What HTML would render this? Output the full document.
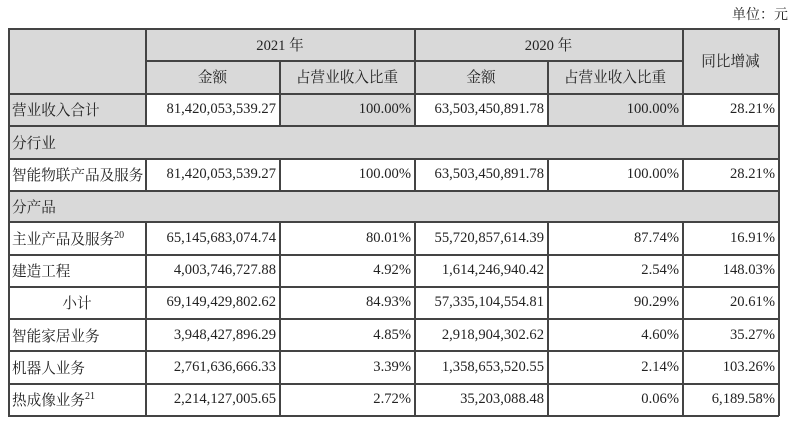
<!DOCTYPE html>
<html><head><meta charset="utf-8"><style>
body{margin:0;width:800px;height:426px;background:#fff;position:relative;overflow:hidden;font-family:"Liberation Serif","Noto Serif CJK SC",serif;font-size:14.6px;color:#222}
.c{position:absolute;box-sizing:border-box;display:flex;align-items:center;padding:0 3px 0 4px;white-space:nowrap}
.g{background:#d9d9d9}
.r{justify-content:flex-end}
.m{justify-content:center}
.h{position:absolute;height:1.5px;background:#444}
.v{position:absolute;width:1.5px;background:#444}
sup{font-size:10px;position:relative;top:-3px;vertical-align:top}
</style></head><body>
<div style="position:absolute;right:12px;top:4px;font-size:14px">单位：元</div>
<div class="c g" style="left:8px;top:28px;width:770px;height:65px"></div>
<div class="c g" style="left:8px;top:93px;width:137px;height:33px;">营业收入合计</div>
<div class="c g r" style="left:279px;top:93px;width:135px;height:33px">100.00%</div>
<div class="c g r" style="left:547px;top:93px;width:135px;height:33px">100.00%</div>
<div class="c r" style="left:145px;top:93px;width:134px;height:33px">81,420,053,539.27</div>
<div class="c r" style="left:414px;top:93px;width:133px;height:33px">63,503,450,891.78</div>
<div class="c r" style="left:682px;top:93px;width:96px;height:33px">28.21%</div>
<div class="c g" style="left:8px;top:126px;width:770px;height:32px">分行业</div>
<div class="c g" style="left:8px;top:190px;width:770px;height:32px">分产品</div>
<div class="c m" style="left:145px;top:28px;width:269px;height:32px">2021 年</div>
<div class="c m" style="left:414px;top:28px;width:268px;height:32px">2020 年</div>
<div class="c m" style="left:145px;top:60px;width:134px;height:33px">金额</div>
<div class="c m" style="left:279px;top:60px;width:135px;height:33px">占营业收入比重</div>
<div class="c m" style="left:414px;top:60px;width:133px;height:33px">金额</div>
<div class="c m" style="left:547px;top:60px;width:135px;height:33px">占营业收入比重</div>
<div class="c m" style="left:682px;top:28px;width:96px;height:65px">同比增减</div>

<div class="c" style="left:8px;top:158px;width:137px;height:32px">智能物联产品及服务</div>
<div class="c r" style="left:145px;top:158px;width:134px;height:32px">81,420,053,539.27</div>
<div class="c r" style="left:279px;top:158px;width:135px;height:32px">100.00%</div>
<div class="c r" style="left:414px;top:158px;width:133px;height:32px">63,503,450,891.78</div>
<div class="c r" style="left:547px;top:158px;width:135px;height:32px">100.00%</div>
<div class="c r" style="left:682px;top:158px;width:96px;height:32px">28.21%</div>

<div class="c" style="left:8px;top:222px;width:137px;height:32px">主业产品及服务<sup>20</sup></div>
<div class="c r" style="left:145px;top:222px;width:134px;height:32px">65,145,683,074.74</div>
<div class="c r" style="left:279px;top:222px;width:135px;height:32px">80.01%</div>
<div class="c r" style="left:414px;top:222px;width:133px;height:32px">55,720,857,614.39</div>
<div class="c r" style="left:547px;top:222px;width:135px;height:32px">87.74%</div>
<div class="c r" style="left:682px;top:222px;width:96px;height:32px">16.91%</div>

<div class="c" style="left:8px;top:254px;width:137px;height:32px">建造工程</div>
<div class="c r" style="left:145px;top:254px;width:134px;height:32px">4,003,746,727.88</div>
<div class="c r" style="left:279px;top:254px;width:135px;height:32px">4.92%</div>
<div class="c r" style="left:414px;top:254px;width:133px;height:32px">1,614,246,940.42</div>
<div class="c r" style="left:547px;top:254px;width:135px;height:32px">2.54%</div>
<div class="c r" style="left:682px;top:254px;width:96px;height:32px">148.03%</div>

<div class="c m" style="left:8px;top:286px;width:137px;height:33px">小计</div>
<div class="c r" style="left:145px;top:286px;width:134px;height:33px">69,149,429,802.62</div>
<div class="c r" style="left:279px;top:286px;width:135px;height:33px">84.93%</div>
<div class="c r" style="left:414px;top:286px;width:133px;height:33px">57,335,104,554.81</div>
<div class="c r" style="left:547px;top:286px;width:135px;height:33px">90.29%</div>
<div class="c r" style="left:682px;top:286px;width:96px;height:33px">20.61%</div>

<div class="c" style="left:8px;top:319px;width:137px;height:32px">智能家居业务</div>
<div class="c r" style="left:145px;top:319px;width:134px;height:32px">3,948,427,896.29</div>
<div class="c r" style="left:279px;top:319px;width:135px;height:32px">4.85%</div>
<div class="c r" style="left:414px;top:319px;width:133px;height:32px">2,918,904,302.62</div>
<div class="c r" style="left:547px;top:319px;width:135px;height:32px">4.60%</div>
<div class="c r" style="left:682px;top:319px;width:96px;height:32px">35.27%</div>

<div class="c" style="left:8px;top:351px;width:137px;height:32px">机器人业务</div>
<div class="c r" style="left:145px;top:351px;width:134px;height:32px">2,761,636,666.33</div>
<div class="c r" style="left:279px;top:351px;width:135px;height:32px">3.39%</div>
<div class="c r" style="left:414px;top:351px;width:133px;height:32px">1,358,653,520.55</div>
<div class="c r" style="left:547px;top:351px;width:135px;height:32px">2.14%</div>
<div class="c r" style="left:682px;top:351px;width:96px;height:32px">103.26%</div>

<div class="c" style="left:8px;top:383px;width:137px;height:32px">热成像业务<sup>21</sup></div>
<div class="c r" style="left:145px;top:383px;width:134px;height:32px">2,214,127,005.65</div>
<div class="c r" style="left:279px;top:383px;width:135px;height:32px">2.72%</div>
<div class="c r" style="left:414px;top:383px;width:133px;height:32px">35,203,088.48</div>
<div class="c r" style="left:547px;top:383px;width:135px;height:32px">0.06%</div>
<div class="c r" style="left:682px;top:383px;width:96px;height:32px">6,189.58%</div>

<div class="h" style="left:8px;width:771px;top:28px"></div>
<div class="h" style="left:145px;width:537px;top:60px"></div>
<div class="h" style="left:8px;width:771px;top:93px"></div>
<div class="h" style="left:8px;width:771px;top:125px"></div>
<div class="h" style="left:8px;width:771px;top:158px"></div>
<div class="h" style="left:8px;width:771px;top:190px"></div>
<div class="h" style="left:8px;width:771px;top:221px"></div>
<div class="h" style="left:8px;width:771px;top:254px"></div>
<div class="h" style="left:8px;width:771px;top:286px"></div>
<div class="h" style="left:8px;width:771px;top:318px"></div>
<div class="h" style="left:8px;width:771px;top:350px"></div>
<div class="h" style="left:8px;width:771px;top:383px"></div>
<div class="h" style="left:8px;width:771px;top:415px"></div>
<div class="v" style="left:8px;top:28px;height:388px"></div>
<div class="v" style="left:778px;top:28px;height:388px"></div>
<div class="v" style="left:145px;top:28px;height:98px"></div>
<div class="v" style="left:145px;top:158px;height:32px"></div>
<div class="v" style="left:145px;top:221px;height:195px"></div>
<div class="v" style="left:414px;top:28px;height:98px"></div>
<div class="v" style="left:414px;top:158px;height:32px"></div>
<div class="v" style="left:414px;top:221px;height:195px"></div>
<div class="v" style="left:682px;top:28px;height:98px"></div>
<div class="v" style="left:682px;top:158px;height:32px"></div>
<div class="v" style="left:682px;top:221px;height:195px"></div>
<div class="v" style="left:279px;top:60px;height:66px"></div>
<div class="v" style="left:279px;top:158px;height:32px"></div>
<div class="v" style="left:279px;top:221px;height:195px"></div>
<div class="v" style="left:547px;top:60px;height:66px"></div>
<div class="v" style="left:547px;top:158px;height:32px"></div>
<div class="v" style="left:547px;top:221px;height:195px"></div>
</body></html>
